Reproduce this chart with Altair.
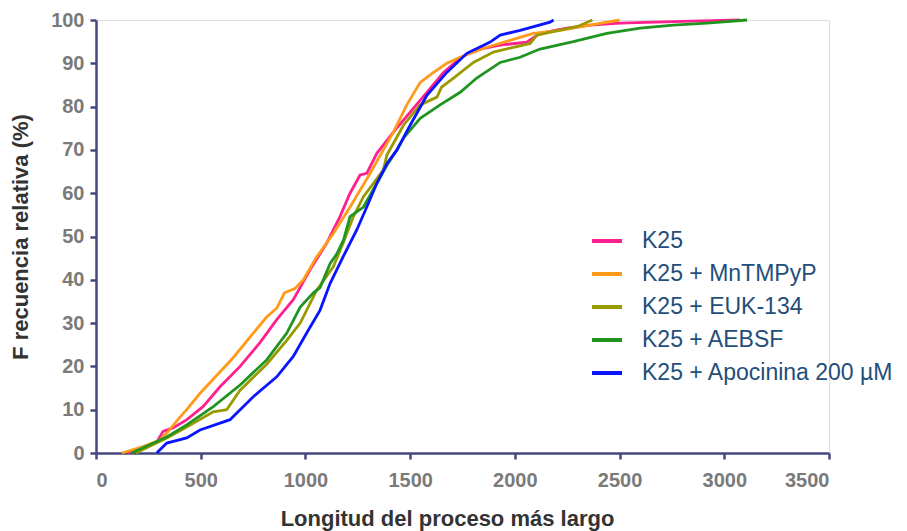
import altair as alt
import pandas as pd

series_names = ["K25", "K25 + MnTMPyP", "K25 + EUK-134", "K25 + AEBSF", "K25 + Apocinina 200 \u00b5M"]
series_colors = ["#ff1f8f", "#ff9a1a", "#999900", "#1f951f", "#0a14ff"]

k25_x = [150, 290, 320, 368, 434, 511, 592, 688, 783, 863, 942, 1022, 1102, 1165, 1213, 1261, 1293, 1341,
         1420, 1500, 1580, 1659, 1739, 1802, 1930, 2057, 2120, 2247, 2359, 2500, 2800, 3075]
k25_y = [0, 2.5, 5, 5.8, 7.7, 10.7, 15.3, 20, 25.5, 30.8, 35.4, 42.3, 48.5, 54.6, 60, 64.2, 64.6, 69.2,
         74.1, 78.7, 83.3, 87.9, 91.2, 93, 94.2, 94.9, 96.9, 98.1, 98.8, 99.3, 99.7, 100]

mn_x = [124, 225, 306, 338, 401, 433, 497, 655, 751, 815, 864, 900, 950, 990, 1054, 1133, 1213, 1261, 1309,
        1372, 1420, 1484, 1548, 1612, 1675, 1739, 1866, 1977, 2088, 2216, 2359, 2500]
mn_y = [0, 1.5, 3, 4.6, 8.3, 10, 13.8, 22, 27.7, 31.4, 33.5, 37, 38, 40, 45.3, 50.7, 56.8, 60.7, 64.6,
        70, 74.1, 80.4, 85.6, 87.9, 90, 91.4, 93.7, 95.3, 96.9, 97.6, 98.8, 100]

euk_x = [190, 340, 433, 560, 624, 688, 815, 911, 975, 1054, 1133, 1180, 1229, 1277, 1325, 1372, 1389, 1468,
         1548, 1628, 1650, 1707, 1802, 1898, 1993, 2073, 2105, 2200, 2300, 2370]
euk_y = [0, 3.5, 6, 9.5, 10, 14.5, 20.5, 26, 30, 37.6, 43, 48.5, 54.6, 59.2, 62.3, 65.4, 68.8, 75.7,
         80.4, 82.2, 84.5, 86.6, 90.2, 92.6, 93.7, 94.6, 96.5, 97.5, 98.5, 100]

aebsf_x = [170, 338, 433, 560, 688, 815, 911, 975, 1038, 1070, 1118, 1150, 1182, 1213, 1277, 1341, 1390, 1437,
           1468, 1548, 1643, 1739, 1818, 1930, 2025, 2120, 2279, 2439, 2598, 2757, 2917, 3109]
aebsf_y = [0, 3.7, 6.5, 10.7, 15.7, 21.5, 27.7, 33.7, 37, 38.2, 43.8, 46, 49.2, 54.6, 56.8, 62.3, 66.5, 70,
           72.7, 77.3, 80.4, 83.3, 86.6, 90.2, 91.4, 93.3, 95, 96.9, 98.1, 98.8, 99.3, 100]

apo_x = [290, 338, 433, 497, 640, 751, 863, 942, 1006, 1070, 1118, 1182, 1245, 1293, 1341, 1390, 1437, 1500,
         1580, 1675, 1771, 1882, 1930, 2025, 2168, 2185]
apo_y = [0, 2.3, 3.5, 5.3, 7.7, 13, 17.6, 22.3, 27.7, 33, 39.2, 45.5, 51.5, 56.8, 62.3, 66.9, 70, 75.7,
         82.6, 87.9, 92.3, 94.9, 96.5, 97.6, 99.5, 100]

x_ticks = [0, 500, 1000, 1500, 2000, 2500, 3000, 3500]
y_ticks = [0, 10, 20, 30, 40, 50, 60, 70, 80, 90, 100]

all_x = [k25_x, mn_x, euk_x, aebsf_x, apo_x]
all_y = [k25_y, mn_y, euk_y, aebsf_y, apo_y]

rows = []
for name, xs, ys in zip(series_names, all_x, all_y):
    for i, (xv, yv) in enumerate(zip(xs, ys)):
        rows.append({"serie": name, "longitud": xv, "frecuencia": yv, "i": i})
df = pd.DataFrame(rows)

font = "Liberation Sans"
axis_color = "#44487f"

common_axis = dict(grid=False, domainColor=axis_color, domainWidth=2.5, tickColor=axis_color,
                   tickWidth=2.5, tickSize=6, labelFont=font, labelFontSize=20, labelFontWeight="bold",
                   labelColor="#7a7a7a", titleFont=font, titleFontSize=22, titleFontWeight="bold",
                   titleColor="#333333", format="d")

chart = alt.Chart(df).mark_line(strokeWidth=2.8).encode(
    x=alt.X("longitud:Q",
            scale=alt.Scale(domain=[0, 3500], nice=False),
            axis=alt.Axis(title="Longitud del proceso m\u00e1s largo", values=x_ticks,
                          labelPadding=11, titlePadding=18, titleX=351, **common_axis)),
    y=alt.Y("frecuencia:Q",
            scale=alt.Scale(domain=[0, 100], nice=False),
            axis=alt.Axis(title="F recuencia relativa (%)", values=y_ticks,
                          labelPadding=6, titlePadding=18, **common_axis)),
    color=alt.Color("serie:N",
                    scale=alt.Scale(domain=series_names, range=series_colors),
                    sort=series_names,
                    legend=alt.Legend(title=None, orient="none", legendX=494, legendY=204,
                                      symbolType="stroke", symbolSize=900, symbolStrokeWidth=4,
                                      labelFont=font, labelFontSize=23, labelColor="#234e7a",
                                      labelOffset=18, rowPadding=4, labelLimit=400)),
    order=alt.Order("i:Q"),
).properties(
    width=733, height=433,
    autosize=alt.AutoSizeParams(type="none"),
    padding={"left": 96, "top": 20, "right": 78, "bottom": 78},
).configure_view(stroke=None).configure(background="white")

chart.save("out.html", embed_options={"renderer": "svg", "actions": False})
